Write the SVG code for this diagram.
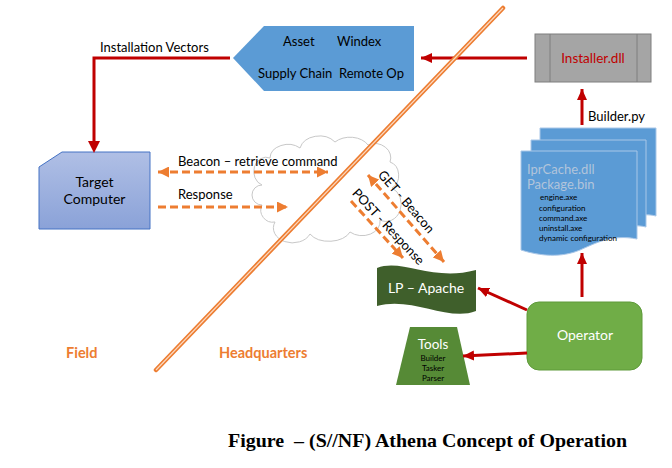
<svg xmlns="http://www.w3.org/2000/svg" width="672" height="468" viewBox="0 0 672 468">
<defs>
  <linearGradient id="tcGrad" x1="0" y1="0" x2="0" y2="1">
    <stop offset="0" stop-color="#b0bfe5"/>
    <stop offset="1" stop-color="#8aa2d8"/>
  </linearGradient>
  <marker id="redHead" markerUnits="userSpaceOnUse" markerWidth="12" markerHeight="10" refX="11" refY="5" orient="auto">
    <path d="M0,0 L11,5 L0,10 Z" fill="#c00000"/>
  </marker>
  <marker id="orHead" markerUnits="userSpaceOnUse" markerWidth="12" markerHeight="11" refX="11" refY="5.5" orient="auto">
    <path d="M0,0 L11,5.5 L0,11 Z" fill="#ed7d31"/>
  </marker>
  <marker id="orTail" markerUnits="userSpaceOnUse" markerWidth="12" markerHeight="11" refX="1" refY="5.5" orient="auto">
    <path d="M12,0 L1,5.5 L12,11 Z" fill="#ed7d31"/>
  </marker>
  <style>
    text { font-family: Lato, "Liberation Sans", sans-serif; }
    .lbl { font-size: 13px; fill: #000; }
    .wt { fill: #fff; }
    .red { stroke: #c00000; stroke-width: 3; fill: none; }
    .dash { stroke: #ed7d31; stroke-width: 3; fill: none; stroke-dasharray: 8 4; }
    .small { font-size: 8px; fill: #000; }
    .zone { font-size: 14.5px; font-weight: bold; fill: #ed7d31; }
    .caption { font-family: "Liberation Serif", "Times New Roman", serif; font-weight: bold; font-size: 19px; fill: #000; white-space: pre; }
  </style>
</defs>
<rect width="672" height="468" fill="#ffffff"/>

<!-- cloud -->
<g id="cloud">
  <path d="M262,185 A12,14 0 0 1 270,158 A18,14 0 0 1 300,148 A20,16 0 0 1 335,142 A20,14 0 0 1 368,145 A16,14 0 0 1 390,162 A12,14 0 0 1 392,188 A14,16 0 0 1 380,220 A18,14 0 0 1 350,232 A22,14 0 0 1 310,234 A18,14 0 0 1 275,222 A12,12 0 0 1 262,205 A10,10 0 0 1 262,185 Z" fill="#ffffff" stroke="#c8c8c8" stroke-width="1"/>
</g>

<!-- nodes -->
<g id="vectors">
  <path d="M233,58 L264,26 L414,26 L414,91 L264,91 Z" fill="#5b9bd5"/>
  <text class="lbl" x="283" y="46">Asset</text>
  <text class="lbl" x="337" y="46">Windex</text>
  <text class="lbl" x="258" y="78">Supply Chain</text>
  <text class="lbl" x="339" y="78">Remote Op</text>
</g>

<g id="target-computer">
  <path d="M62,152 H150 V229 H39 V167 Z" fill="url(#tcGrad)" stroke="#4472c4" stroke-width="1"/>
  <text class="lbl" x="94.5" y="187" text-anchor="middle" style="font-size:14px">Target</text>
  <text class="lbl" x="94.5" y="204" text-anchor="middle" style="font-size:14px">Computer</text>
</g>

<g id="installer">
  <rect x="535" y="34" width="116" height="48" fill="#a5a5a5" stroke="#7f7f7f" stroke-width="1"/>
  <line x1="550" y1="34" x2="550" y2="82" stroke="#7f7f7f" stroke-width="1"/>
  <line x1="637" y1="34" x2="637" y2="82" stroke="#7f7f7f" stroke-width="1"/>
  <text x="593" y="63" text-anchor="middle" font-size="13.5px" fill="#c00000">Installer.dll</text>
</g>

<g id="package">
  <path d="M540,128 H656 V216 C648,214 640,215 636,216 L540,216 Z" fill="#5b9bd5" stroke="#a9c7e8" stroke-width="1"/>
  <path d="M531,140 H646 V227 C638,225 630,226 626,227 L531,227 Z" fill="#5b9bd5" stroke="#a9c7e8" stroke-width="1"/>
  <path d="M521,151 H637 V239 C612,234 596,243 580,250 C561,258 540,256 521,250 Z" fill="#5b9bd5" stroke="#a9c7e8" stroke-width="1"/>
  <text x="527" y="174" font-size="13px" fill="#c3cddc" fill-opacity="0.85">IprCache.dll</text>
  <text x="527" y="189" font-size="13px" fill="#c3cddc" fill-opacity="0.85">Package.bin</text>
  <text class="small" x="540" y="200">engine.axe</text>
  <text class="small" x="539" y="210.5">configuration</text>
  <text class="small" x="539" y="220.5">command.axe</text>
  <text class="small" x="539" y="230.5">uninstall.axe</text>
  <text class="small" x="539" y="240.5">dynamic configuration</text>
</g>

<g id="operator">
  <rect x="527" y="302" width="115" height="68" rx="12" ry="12" fill="#70ad47" stroke="#5e9a3a" stroke-width="1"/>
  <text class="wt" x="585" y="340" text-anchor="middle" font-size="14px">Operator</text>
</g>

<g id="lp-apache">
  <path d="M377,268 C402,258 432,282 476,270 L476,311 C448,322 412,296 377,306 Z" fill="#3f5f2b"/>
  <text class="wt" x="426" y="293" text-anchor="middle" font-size="14px">LP – Apache</text>
</g>

<g id="tools">
  <path d="M410,327 L457,327 L470,385 L396,385 Z" fill="#568a36"/>
  <text class="wt" x="433" y="349" text-anchor="middle" font-size="13.5px">Tools</text>
  <text class="small" x="433" y="361" text-anchor="middle">Builder</text>
  <text class="small" x="433" y="371" text-anchor="middle">Tasker</text>
  <text class="small" x="433" y="381" text-anchor="middle">Parser</text>
</g>

<!-- connectors -->
<g id="connectors">
  <polyline class="red" points="230,58 94,58 94,141" />
  <path d="M88,141 L100,141 L94,153 Z" fill="#c00000"/>
  <line class="red" x1="527" y1="58" x2="421" y2="58" marker-end="url(#redHead)"/>
  <line class="red" x1="582" y1="125" x2="582" y2="89" marker-end="url(#redHead)"/>
  <line class="red" x1="582" y1="297" x2="582" y2="253" marker-end="url(#redHead)"/>
  <line class="red" x1="527" y1="310" x2="478" y2="288" marker-end="url(#redHead)"/>
  <line class="red" x1="527" y1="353" x2="463" y2="356" marker-end="url(#redHead)"/>

  <line class="dash" x1="158" y1="172" x2="328" y2="172" marker-start="url(#orTail)" marker-end="url(#orHead)"/>
  <line class="dash" x1="158" y1="207" x2="288" y2="207" marker-end="url(#orHead)"/>
  <line class="dash" x1="368" y1="175" x2="444" y2="262" marker-start="url(#orTail)" marker-end="url(#orHead)"/>
  <line class="dash" x1="351" y1="201" x2="403" y2="258" marker-end="url(#orHead)"/>

  <text class="lbl" x="100" y="52">Installation Vectors</text>
  <text class="lbl" x="588" y="121">Builder.py</text>
  <text class="lbl" x="178" y="166">Beacon – retrieve command</text>
  <text class="lbl" x="178" y="199">Response</text>
  <text class="lbl" transform="translate(406,202) rotate(49)" text-anchor="middle" dy="4">GET - Beacon</text>
  <text class="lbl" transform="translate(388,227) rotate(47)" text-anchor="middle" dy="4">POST - Response</text>
</g>

<!-- field / HQ divider -->
<g id="divider">
  <line x1="503" y1="8" x2="156" y2="370" stroke="#ed7d31" stroke-width="4.5" stroke-linecap="round"/>
  <line x1="503" y1="8" x2="156" y2="370" stroke="#fbd9c2" stroke-width="1.2"/>
</g>

<text class="zone" x="66" y="358">Field</text>
<text class="zone" x="219" y="358">Headquarters</text>

<text class="caption" x="228" y="447" textLength="399" lengthAdjust="spacingAndGlyphs">Figure  – (S//NF) Athena Concept of Operation</text>
</svg>
